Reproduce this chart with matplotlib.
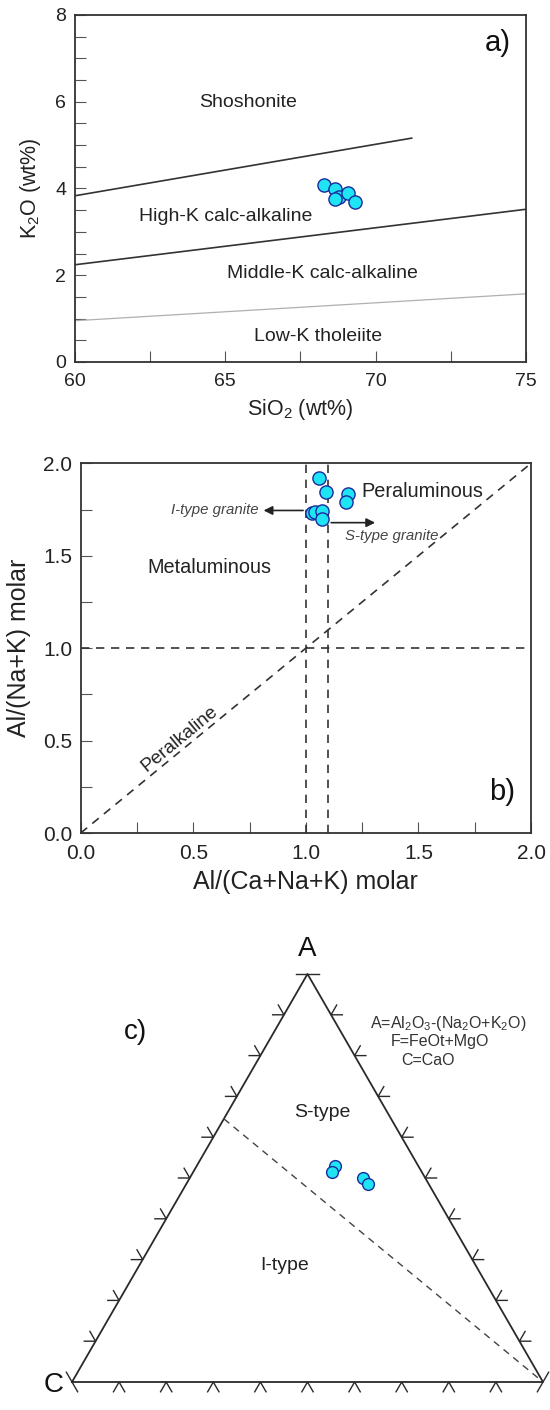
import numpy as np
import matplotlib.pyplot as plt

plt.rcParams['font.family'] = ['Liberation Sans', 'DejaVu Sans']
plt.rcParams['mathtext.fontset'] = 'custom'
plt.rcParams['mathtext.rm'] = 'Liberation Sans'

# ---- a) SiO2 vs K2O ----
sio2 = [68.30, 68.65, 68.80, 68.65, 69.10, 69.30]
k2o = [4.07, 3.99, 3.81, 3.76, 3.89, 3.68]
sho_x = [60, 71.2]
sho_y = [3.83, 5.16]
hk_x = [60, 75]
hk_y = [2.24, 3.52]
lk_x = [60, 75]
lk_y = [0.95, 1.57]

# ---- b) A/CNK vs A/NK ----
acnk = [1.058, 1.088, 1.188, 1.177, 1.026, 1.040, 1.070, 1.070]
anK = [1.922, 1.846, 1.834, 1.792, 1.730, 1.738, 1.744, 1.697]

# ---- c) ACF ternary (fractions of A, C, F) ----
tern_A = [0.529, 0.515, 0.501, 0.485]
tern_C = [0.177, 0.191, 0.131, 0.128]
tern_F = [0.294, 0.294, 0.368, 0.387]
div_A = [0.645, 0.0]
div_C = [0.355, 0.0]
div_F = [0.0, 1.0]

fill = '#1EE4F4'
edge = '#1B2A9C'
dark = '#2a2a2a'
tcol = '#222222'

fig = plt.figure(figsize=(5.5, 14.1), dpi=100)


def style(ax, size):
    for s in ax.spines.values():
        s.set_color('#333333')
        s.set_linewidth(1.3)
    ax.tick_params(which='both', direction='in', length=8, width=0.8,
                   color='#555555', labelsize=size, labelcolor=tcol)
    ax.tick_params(axis='x', pad=8)
    ax.tick_params(axis='y', pad=6)


# panel a
ax1 = fig.add_axes([0.1358, 0.7433, 0.8206, 0.2461])
ax1.plot(sho_x, sho_y, color='#333333', lw=1.2)
ax1.plot(hk_x, hk_y, color='#333333', lw=1.2)
ax1.plot(lk_x, lk_y, color='#b0b0b0', lw=0.9)
ax1.plot(sio2, k2o, 'o', ms=9.5, mfc=fill, mec=edge, mew=1.0, zorder=5)
ax1.set_xlim(60, 75)
ax1.set_ylim(0, 8)
ax1.set_xticks([60, 65, 70, 75])
ax1.set_xticks([62.5, 67.5, 72.5], minor=True)
ax1.set_yticks([0, 2, 4, 6, 8])
ax1.set_yticks(np.arange(0.5, 8, 0.5), minor=True)
style(ax1, 14)
ax1.set_xlabel(r'SiO$_\mathregular{2}$ (wt%)', fontsize=15.5, color=tcol, va='center')
ax1.set_ylabel(r'K$_\mathregular{2}$O (wt%)', fontsize=15.5, color=tcol, va='center')
ax1.xaxis.set_label_coords(0.5, -0.138)
ax1.yaxis.set_label_coords(-0.099, 0.5)
ax1.text(65.76, 5.97, 'Shoshonite', fontsize=14, color=tcol, ha='center', va='center')
ax1.text(65.03, 3.35, 'High-K calc-alkaline', fontsize=14, color=tcol, ha='center', va='center')
ax1.text(68.22, 2.05, 'Middle-K calc-alkaline', fontsize=14, color=tcol, ha='center', va='center')
ax1.text(68.08, 0.58, 'Low-K tholeiite', fontsize=14, color=tcol, ha='center', va='center')
ax1.text(74.07, 7.35, 'a)', fontsize=21, color='#111111', ha='center', va='center')

# panel b
ax2 = fig.add_axes([0.1467, 0.4092, 0.8188, 0.2622])
dash = dict(color='#333333', lw=1.2, ls=(0, (5, 4)))
ax2.plot([0, 2], [0, 2], **dash)
ax2.plot([0, 2], [1, 1], **dash)
ax2.plot([1, 1], [0, 2], **dash)
ax2.plot([1.1, 1.1], [0, 2], **dash)
ax2.annotate('', xy=(0.80, 1.745), xytext=(1.0, 1.745),
             arrowprops=dict(arrowstyle='-|>', color='#222222', lw=1.2, mutation_scale=13))
ax2.annotate('', xy=(1.32, 1.679), xytext=(1.1, 1.679),
             arrowprops=dict(arrowstyle='-|>', color='#222222', lw=1.2, mutation_scale=13))
ax2.plot(acnk, anK, 'o', ms=9.5, mfc=fill, mec=edge, mew=1.0, zorder=5)
ax2.set_xlim(0, 2)
ax2.set_ylim(0, 2)
ticks = [0.0, 0.5, 1.0, 1.5, 2.0]
ax2.set_xticks(ticks)
ax2.set_yticks(ticks)
ax2.set_xticklabels(['%.1f' % t for t in ticks])
ax2.set_yticklabels(['%.1f' % t for t in ticks])
ax2.set_xticks([0.25, 0.75, 1.25, 1.75], minor=True)
ax2.set_yticks([0.25, 0.75, 1.25, 1.75], minor=True)
style(ax2, 15)
ax2.set_xlabel('Al/(Ca+Na+K) molar', fontsize=18, color=tcol, va='center')
ax2.set_ylabel('Al/(Na+K) molar', fontsize=18, color=tcol, va='center')
ax2.xaxis.set_label_coords(0.5, -0.132)
ax2.yaxis.set_label_coords(-0.137, 0.5)
ax2.text(0.79, 1.745, 'I-type granite', fontsize=10.8, style='italic', color='#444444',
         ha='right', va='center')
ax2.text(1.38, 1.607, 'S-type granite', fontsize=10.8, style='italic', color='#444444',
         ha='center', va='center')
ax2.text(1.246, 1.846, 'Peraluminous', fontsize=14.3, color=tcol, ha='left', va='center')
ax2.text(0.57, 1.437, 'Metaluminous', fontsize=14.3, color=tcol, ha='center', va='center')
ax2.text(0.44, 0.51, 'Peralkaline', fontsize=13.7, color=tcol, ha='center', va='center',
         rotation=39.4)
ax2.text(1.87, 0.223, 'b)', fontsize=21, color='#111111', ha='center', va='center')

# panel c (ternary)
h = np.sqrt(3) / 2
ax3 = fig.add_axes([72 / 550, 28 / 1410, 471 / 550, 408 / 1410])
ax3.set_xlim(0, 1)
ax3.set_ylim(0, h)
ax3.axis('off')


def tern(a, c, f):
    a = np.asarray(a, float)
    f = np.asarray(f, float)
    return f + a / 2, a * h


ax3.plot([0, 1, 0.5, 0], [0, 0, h, 0], color=dark, lw=1.3, clip_on=False)
dx, dy = tern(div_A, div_C, div_F)
ax3.plot(dx, dy, color='#444444', lw=1.0, ls=(0, (5, 4)), clip_on=False)

L = 0.024
tk = dict(color=dark, lw=1.0, clip_on=False)
for i in range(1, 10):
    t = i / 10
    # base (C-F)
    ax3.plot([t - 0.5 * L, t, t + 0.5 * L], [-h * L, 0, -h * L], **tk)
    # left edge (C-A)
    px, py = t * 0.5, t * h
    ax3.plot([px - L, px, px - 0.5 * L], [py, py, py + h * L], **tk)
    # right edge (F-A)
    px = 1 - t * 0.5
    ax3.plot([px + L, px, px + 0.5 * L], [py, py, py + h * L], **tk)
ax3.plot([0.5 - L, 0.5 + L], [h, h], **tk)
ax3.plot([-0.5 * L, 0.5 * L], [h * L, -h * L], **tk)
ax3.plot([1 - 0.5 * L, 1 + 0.5 * L], [-h * L, h * L], **tk)

px, py = tern(tern_A, tern_C, tern_F)
ax3.plot(px, py, 'o', ms=8.5, mfc=fill, mec=edge, mew=1.0, zorder=5, clip_on=False)

ax3.text(0.5, h + 0.053, 'A', fontsize=20, color='#111111', ha='center', va='center')
ax3.text(-0.04, -0.006, 'C', fontsize=20, color='#111111', ha='center', va='center')
ax3.text(0.134, 0.743, 'c)', fontsize=20, color='#111111', ha='center', va='center')
ax3.text(0.531, 0.573, 'S-type', fontsize=14, color=tcol, ha='center', va='center')
ax3.text(0.452, 0.248, 'I-type', fontsize=14, color=tcol, ha='center', va='center')
ax3.text(0.633, 0.762, r'A=Al$_\mathregular{2}$O$_\mathregular{3}$-(Na$_\mathregular{2}$O+K$_\mathregular{2}$O)',
         fontsize=11.5, color='#333333', ha='left', va='center')
ax3.text(0.676, 0.722, 'F=FeOt+MgO', fontsize=11.5, color='#333333', ha='left', va='center')
ax3.text(0.699, 0.682, 'C=CaO', fontsize=11.5, color='#333333', ha='left', va='center')

fig.savefig('out.png', dpi=100)
